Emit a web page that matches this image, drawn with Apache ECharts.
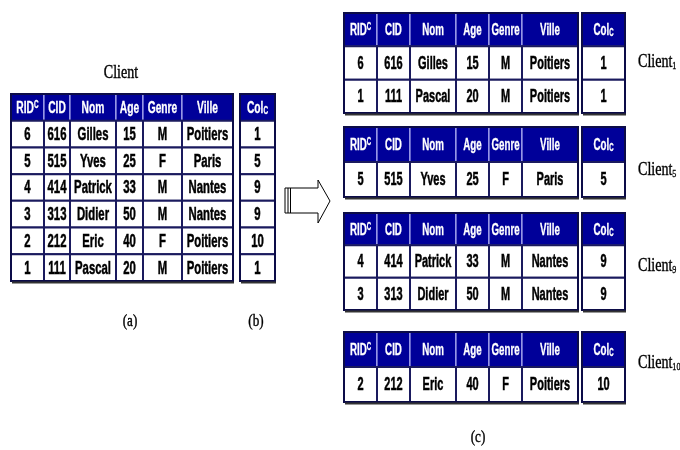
<!DOCTYPE html>
<html><head><meta charset="utf-8">
<script src="https://cdn.jsdelivr.net/npm/echarts@6/dist/echarts.min.js"></script>
<style>html,body{margin:0;padding:0;background:#fff}#c{width:680px;height:450px}</style>
</head><body><div id="c"></div>
<script>
// ---------- data ----------
const headerNames = ['RID', 'CID', 'Nom', 'Age', 'Genre', 'Ville'];
const headerSup = ['C', '', '', '', '', ''];
const colHeaderName = 'Col';
const colHeaderSub = 'C';
const ridC = [6, 5, 4, 3, 2, 1];
const cid = [616, 515, 414, 313, 212, 111];
const nom = ['Gilles', 'Yves', 'Patrick', 'Didier', 'Eric', 'Pascal'];
const age = [15, 25, 33, 50, 40, 20];
const genre = ['M', 'F', 'M', 'M', 'F', 'M'];
const ville = ['Poitiers', 'Paris', 'Nantes', 'Nantes', 'Poitiers', 'Poitiers'];
const colC = [1, 5, 9, 9, 10, 1];
const clusterIds = [1, 5, 9, 10];
const tableTitle = 'Client';
const clusterPrefix = 'Client';
const panelLabels = ['(a)', '(b)', '(c)'];

// ---------- layout / style ----------
const NAVY = '#000099';
const CELL_LINE = '#1a1a5e';
const FRAME_LINE = '#0c0c48';
const SANS = "'Liberation Sans', Arial, sans-serif";
const SERIF = "'Liberation Serif', 'Times New Roman', serif";
const leftLayout = { left: 11, top: 94, width: 264, height: 187,
  edges: [0, 33, 59, 105, 132, 171, 222], colEdge: [229, 264], fs: 18, sx: 0.63, hfs: 16, hsx: 0.64 };
const rightLayout = { left: 344, width: 281,
  edges: [0, 33, 66, 112, 145, 178, 234], colEdge: [238, 281], fs: 18, sx: 0.61, hfs: 16, hsx: 0.61 };
const rightTops = [13, 127, 213, 332];
const rightHeights = [100, 70, 97, 70];
const clusterLabelY = [62, 170, 266, 363];

function richFor(lay) {
  const common = { fontWeight: 'bold', fontFamily: SANS, fill: '#fff', stroke: '#fff', lineWidth: 0.3 };
  return {
    m: Object.assign({ fontSize: lay.hfs }, common),
    p: Object.assign({ fontSize: 10, verticalAlign: 'top' }, common),
    b: Object.assign({ fontSize: 10, verticalAlign: 'bottom' }, common)
  };
}

function cellRenderer(meta, lay) {
  const rich = richFor(lay);
  return function (params, api) {
    const m = meta[params.dataIndex];
    const p0 = api.coord([api.value(0), api.value(2)]);
    const p1 = api.coord([api.value(1), api.value(2)]);
    const h = api.size([0, 1])[1];
    const rect = {
      type: 'rect',
      shape: { x: p0[0], y: p0[1] - h / 2, width: p1[0] - p0[0], height: h },
      style: m.header ? { fill: NAVY, stroke: '#c8c8ff', lineWidth: 1 }
                      : { fill: '#fff', stroke: CELL_LINE, lineWidth: 2 }
    };
    const txt = {
      type: 'text',
      x: (p0[0] + p1[0]) / 2, y: p0[1] + 1, scaleX: m.header ? lay.hsx : lay.sx,
      style: {
        text: m.text, x: 0, y: 0,
        align: 'center', verticalAlign: 'middle',
        fill: m.header ? '#fff' : '#000',
        stroke: m.header ? '#fff' : '#000', lineWidth: 0.5,
        fontSize: m.header ? lay.hfs : lay.fs, fontWeight: 'bold', fontFamily: SANS,
        rich: m.header ? rich : undefined
      }
    };
    return { type: 'group', children: [rect, txt] };
  };
}

function frameRenderer(nRows) {
  return function (params, api) {
    const a = api.coord([api.value(0), 0]);
    const b = api.coord([api.value(1), nRows - 1]);
    const h = api.size([0, 1])[1];
    const top = a[1] - h / 2, bottom = b[1] + h / 2;
    return {
      type: 'group',
      children: [
        { type: 'rect', shape: { x: a[0], y: top, width: b[0] - a[0], height: bottom - top },
          style: { fill: 'none', stroke: FRAME_LINE, lineWidth: 2 } },
        { type: 'line', shape: { x1: a[0] + 1, y1: bottom + 1.5, x2: b[0] + 1, y2: bottom + 1.5 },
          style: { stroke: '#333', lineWidth: 2 } }
      ]
    };
  };
}

const grids = [], xAxes = [], yAxes = [], series = [];

function buildTable(rowIdx, lay, top, height) {
  const gi = grids.length;
  grids.push({ left: lay.left, top: top, width: lay.width, height: height });
  xAxes.push({ type: 'value', gridIndex: gi, min: 0, max: lay.width, show: false });
  const cats = ['header'].concat(rowIdx.map(i => 'r' + i));
  yAxes.push({ type: 'category', gridIndex: gi, data: cats, inverse: true, show: false });
  const cells = [], meta = [];
  for (let c = 0; c < headerNames.length; c++) {
    cells.push([lay.edges[c], lay.edges[c + 1], 0]);
    meta.push({ header: true, text: headerSup[c] ? '{m|' + headerNames[c] + '}{p|' + headerSup[c] + '}' : '{m|' + headerNames[c] + '}' });
  }
  cells.push([lay.colEdge[0], lay.colEdge[1], 0]);
  meta.push({ header: true, text: '{m|' + colHeaderName + '}{b|' + colHeaderSub + '}' });
  rowIdx.forEach((i, r) => {
    const vals = [ridC[i], cid[i], nom[i], age[i], genre[i], ville[i]];
    vals.forEach((v, c) => {
      cells.push([lay.edges[c], lay.edges[c + 1], r + 1]);
      meta.push({ header: false, text: String(v) });
    });
    cells.push([lay.colEdge[0], lay.colEdge[1], r + 1]);
    meta.push({ header: false, text: String(colC[i]) });
  });
  series.push({
    type: 'custom', coordinateSystem: 'cartesian2d', xAxisIndex: gi, yAxisIndex: gi,
    encode: { x: [0, 1], y: 2 }, data: cells, renderItem: cellRenderer(meta, lay),
    silent: true, animation: false, z: 2
  });
  series.push({
    type: 'custom', coordinateSystem: 'cartesian2d', xAxisIndex: gi, yAxisIndex: gi,
    encode: { x: [0, 1] },
    data: [[lay.edges[0], lay.edges[lay.edges.length - 1]], [lay.colEdge[0], lay.colEdge[1]]],
    renderItem: frameRenderer(rowIdx.length + 1), silent: true, animation: false, z: 3
  });
}

// (a)+(b): full table
buildTable(ridC.map((_, i) => i), leftLayout, leftLayout.top, leftLayout.height);
// (c): one table per cluster
clusterIds.forEach((k, t) => {
  const rows = colC.map((v, i) => v === k ? i : -1).filter(i => i >= 0);
  buildTable(rows, rightLayout, rightTops[t], rightHeights[t]);
});

const serifRich = {
  m: { fontSize: 19, fontFamily: SERIF, fill: '#000', stroke: '#000', lineWidth: 0.4 },
  s: { fontSize: 11, fontFamily: SERIF, fill: '#000', stroke: '#000', lineWidth: 0.3, verticalAlign: 'bottom' }
};
function serifText(txt, x, y, size, sx) {
  return { type: 'text', x: x, y: y, scaleX: sx,
    style: { text: txt, x: 0, y: 0, align: 'center', verticalAlign: 'middle', fontSize: size,
      fontFamily: SERIF, fill: '#000', stroke: '#000', lineWidth: 0.4 } };
}
const graphic = [
  serifText(tableTitle, 121, 73, 18, 0.78),
  serifText(panelLabels[0], 130, 322, 16, 0.82),
  serifText(panelLabels[1], 256, 322, 16, 0.82),
  serifText(panelLabels[2], 478, 438, 16, 0.82),
  // arrow
  { type: 'polygon', shape: { points: [[285, 188], [318, 188], [318, 180], [330, 201], [318, 223], [318, 213], [285, 213]] },
    style: { fill: '#fff', stroke: '#000', lineWidth: 1 } },
  { type: 'line', shape: { x1: 288, y1: 188, x2: 288, y2: 213 }, style: { stroke: '#000', lineWidth: 1 } },
  { type: 'line', shape: { x1: 290.5, y1: 188, x2: 290.5, y2: 213 }, style: { stroke: '#000', lineWidth: 1 } }
];
clusterIds.forEach((k, t) => {
  graphic.push({ type: 'text', x: 638, y: clusterLabelY[t], scaleX: 0.74,
    style: { text: '{m|' + clusterPrefix + '}{s|' + k + '}', x: 0, y: 0, align: 'left', verticalAlign: 'middle', rich: serifRich } });
});

const chart = echarts.init(document.getElementById('c'));
chart.setOption({
  animation: false,
  grid: grids, xAxis: xAxes, yAxis: yAxes, series: series, graphic: graphic
});
</script>
</body></html>
